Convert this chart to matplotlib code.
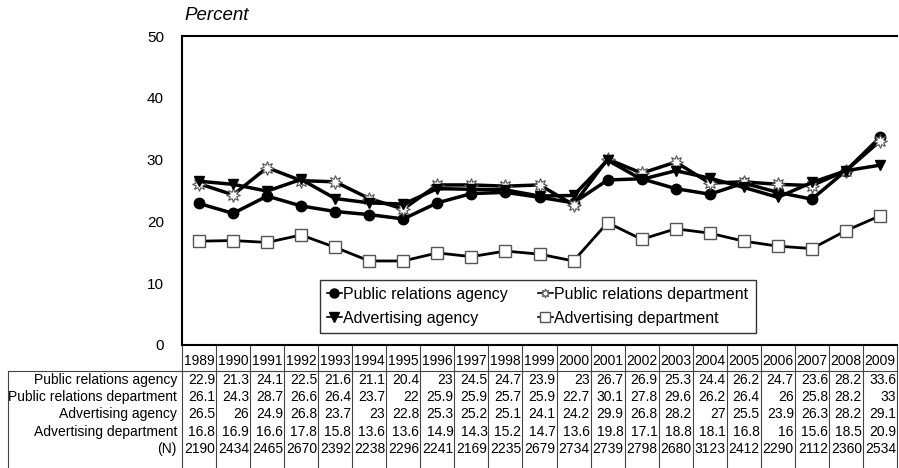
import matplotlib.pyplot as plt
import matplotlib.transforms as mtransforms

plt.rcParams['font.family'] = ['Liberation Sans', 'DejaVu Sans']

years = ['1989', '1990', '1991', '1992', '1993', '1994', '1995', '1996', '1997', '1998', '1999',
         '2000', '2001', '2002', '2003', '2004', '2005', '2006', '2007', '2008', '2009']
pr_agency = [22.9, 21.3, 24.1, 22.5, 21.6, 21.1, 20.4, 23, 24.5, 24.7, 23.9,
             23, 26.7, 26.9, 25.3, 24.4, 26.2, 24.7, 23.6, 28.2, 33.6]
pr_department = [26.1, 24.3, 28.7, 26.6, 26.4, 23.7, 22, 25.9, 25.9, 25.7, 25.9,
                 22.7, 30.1, 27.8, 29.6, 26.2, 26.4, 26, 25.8, 28.2, 33]
adv_agency = [26.5, 26, 24.9, 26.8, 23.7, 23, 22.8, 25.3, 25.2, 25.1, 24.1,
              24.2, 29.9, 26.8, 28.2, 27, 25.5, 23.9, 26.3, 28.2, 29.1]
adv_department = [16.8, 16.9, 16.6, 17.8, 15.8, 13.6, 13.6, 14.9, 14.3, 15.2, 14.7,
                  13.6, 19.8, 17.1, 18.8, 18.1, 16.8, 16, 15.6, 18.5, 20.9]
n_counts = [2190, 2434, 2465, 2670, 2392, 2238, 2296, 2241, 2169, 2235, 2679,
            2734, 2739, 2798, 2680, 3123, 2412, 2290, 2112, 2360, 2534]
row_labels = ['Public relations agency', 'Public relations department',
              'Advertising agency', 'Advertising department', '(N)']

W, H = 899, 468
fig = plt.figure(figsize=(W / 100, H / 100), dpi=100)
left, right, top, bottom = 182, 897, 36, 345
ax = fig.add_axes([left / W, 1 - bottom / H, (right - left) / W, (bottom - top) / H])

x = list(range(len(years)))
l1, = ax.plot(x, pr_agency, color='black', lw=2.5, marker='o', ms=7.5,
              mfc='black', mec='black', label='Public relations agency')
l2, = ax.plot(x, pr_department, color='black', lw=2.5, marker=(8, 1, 0), ms=10,
              mfc='white', mec='#555555', mew=0.8, label='Public relations department')
l3, = ax.plot(x, adv_agency, color='black', lw=2.5, marker='v', ms=7.5,
              mfc='black', mec='black', label='Advertising agency')
l4, = ax.plot(x, adv_department, color='black', lw=2.0, marker='s', ms=8.5,
              mfc='white', mec='#555555', mew=1.0, label='Advertising department')

ax.set_xlim(-0.5, len(years) - 0.5)
ax.set_ylim(0, 50)
ax.set_yticks([0, 10, 20, 30, 40, 50])
ax.tick_params(axis='y', length=0, labelsize=11, pad=13)
ax.set_xticks([])
ax.spines['right'].set_visible(False)
for s in ['left', 'top', 'bottom']:
    ax.spines[s].set_linewidth(1.5)

fig.text(184 / W, 1 - 15 / H, 'Percent', fontsize=13.5, style='italic', va='center', ha='left')

# matplotlib fills legend column-wise, so order handles to read row-wise
leg = ax.legend([l1, l3, l2, l4], [l1.get_label(), l3.get_label(), l2.get_label(), l4.get_label()],
                loc='lower left', bbox_to_anchor=((320 - left) / (right - left), (bottom - 333) / (bottom - top)),
                borderaxespad=0, ncol=2, fontsize=11.5, frameon=True, fancybox=False, edgecolor='black',
                handlelength=0.9, handletextpad=0.1, columnspacing=1.9,
                borderpad=0.45, labelspacing=0.55)
leg.get_frame().set_linewidth(1.0)
for h in leg.legend_handles:
    h.set_linewidth(1.2)
    h.set_markersize(6.5)

# table below the axes
trans = mtransforms.blended_transform_factory(ax.transData, fig.transFigure)
ypx = lambda p: 1 - p / H
tab_top = 371
row_h = 17.3
table_rows = [pr_agency, pr_department, adv_agency, adv_department, n_counts]

for i, yr in enumerate(years):
    ax.text(i, ypx(361), yr, transform=trans, ha='center', va='center', fontsize=10)
for r, (lab, vals) in enumerate(zip(row_labels, table_rows)):
    yc = ypx(tab_top + row_h * (r + 0.5))
    fig.text((left - 5) / W, yc, lab, ha='right', va='center', fontsize=10)
    for i, v in enumerate(vals):
        ax.text(i + 0.47, yc, f'{v:g}', transform=trans, ha='right', va='center', fontsize=10)

lc = '#444444'
for i in range(len(years) + 1):
    ax.plot([i - 0.5, i - 0.5], [ypx(bottom), 0], transform=trans, color=lc, lw=0.8, clip_on=False)
fig.add_artist(plt.Line2D([8 / W, right / W], [ypx(tab_top), ypx(tab_top)], color=lc, lw=0.8))
fig.add_artist(plt.Line2D([8 / W, 8 / W], [ypx(tab_top), 0], color=lc, lw=0.8))

fig.savefig('out.png', dpi=100)
